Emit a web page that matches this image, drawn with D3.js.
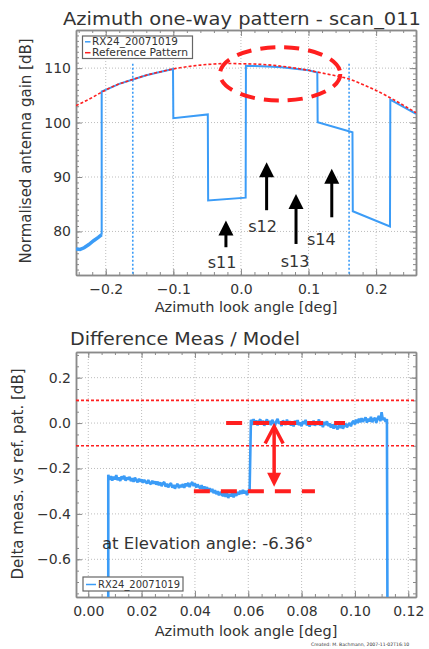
<!DOCTYPE html>
<html>
<head>
<meta charset="utf-8">
<script src="https://cdnjs.cloudflare.com/ajax/libs/d3/7.8.5/d3.min.js"></script>
<style>
body { margin: 0; background: #fff; }
svg { display: block; }
text { font-family: "DejaVu Sans", sans-serif; fill: #333; }
</style>
</head>
<body>
<script>
// ---------- top panel: azimuth one-way pattern ----------
const topXTicks = [-0.2, -0.1, 0.0, 0.1, 0.2];
const topYTicks = [80, 90, 100, 110];

// measured pattern RX24_20071019 (deg, dB)
const measStartX = [-0.244, -0.238, -0.232, -0.225, -0.218, -0.211, -0.206];
const measStartY = [76.8, 76.7, 77.0, 77.6, 78.3, 78.9, 79.4];
const measX = [-0.206, -0.206, -0.2, -0.18, -0.16, -0.14, -0.12, -0.1005, -0.1, -0.049, -0.0485, 0.007, 0.0074, 0.02, 0.04, 0.06, 0.08, 0.1, 0.113, 0.1135, 0.165, 0.1655, 0.2205, 0.221, 0.259];
const measY = [79.4, 105.7, 106.0, 107.1, 107.9, 108.7, 109.3, 109.85, 100.8, 101.5, 85.7, 86.2, 110.45, 110.4, 110.3, 110.15, 109.9, 109.6, 109.2, 100.05, 98.2, 83.7, 80.9, 104.2, 101.6];

// reference pattern
const refX = [-0.244, -0.22, -0.2, -0.18, -0.16, -0.14, -0.12, -0.1, -0.08, -0.06, -0.04, -0.02, 0.0, 0.02, 0.04, 0.06, 0.08, 0.1, 0.12, 0.14, 0.16, 0.18, 0.2, 0.22, 0.24, 0.259];
const refY = [103.1, 104.6, 106.0, 107.1, 107.9, 108.7, 109.3, 109.85, 110.25, 110.55, 110.75, 110.85, 110.8, 110.75, 110.6, 110.35, 110.0, 109.6, 109.1, 108.6, 108.0, 107.0, 105.9, 104.6, 103.2, 101.8];

// scan boundaries (blue dotted)
const scanBounds = [-0.16, 0.16];
const scanLineTop = 110.8;

// beam labels with arrows
const beamNames = ["s11", "s12", "s13", "s14"];
const beamArrowX = [-0.0222, 0.038, 0.0815, 0.1344];
const beamTipY = [82.0, 92.7, 86.9, 91.5];
const beamTailY = [77.1, 83.9, 77.7, 82.6];
const beamLabelX = [-0.028, 0.032, 0.080, 0.119];
const beamLabelY = [73.2, 79.9, 73.45, 77.6];

// highlighted region (ellipse centre and radii in data units)
const ellipseC = [0.058, 108.94];
const ellipseR = [0.089, 4.9];

// ---------- bottom panel: difference meas / model ----------
const botXTicks = [0.00, 0.02, 0.04, 0.06, 0.08, 0.10, 0.12];
const botYTicks = [0.2, 0.0, -0.2, -0.4, -0.6];
const tolerance = [0.1, -0.1];

// difference samples, 0.0005 deg apart
const diffLeftStart = 0.0075;
const diffRightStart = 0.061;
const diffStep = 0.0005;
const diffLeft = [
  -0.228, -0.250, -0.234, -0.253, -0.236, -0.248, -0.229, -0.252, -0.239, -0.255, -0.235, -0.247, -0.232, -0.254, -0.240, -0.249,
  -0.237, -0.256, -0.243, -0.259, -0.240, -0.252, -0.261, -0.245, -0.258, -0.248, -0.263, -0.250, -0.259, -0.266, -0.251, -0.264, -0.269, -0.254, -0.267, -0.257,
  -0.271, -0.258, -0.274, -0.261, -0.278, -0.265, -0.260, -0.280, -0.267, -0.283, -0.271, -0.265, -0.284, -0.272, -0.289, -0.275, -0.268, -0.286, -0.273, -0.282,
  -0.269, -0.285, -0.266, -0.278, -0.263, -0.282, -0.268, -0.260, -0.277, -0.266, -0.284, -0.271, -0.279, -0.288,
  -0.274, -0.291, -0.279, -0.296, -0.282, -0.300, -0.287, -0.303, -0.290, -0.309, -0.296, -0.313, -0.300, -0.318, -0.303, -0.315,
  -0.321, -0.304, -0.325, -0.309, -0.330, -0.312, -0.323, -0.306, -0.327, -0.310, -0.320, -0.303,
  -0.315, -0.298, -0.312, -0.294, -0.310, -0.299, -0.317, -0.296, -0.305
];
const diffRight = [
  0.015, -0.008, 0.018, -0.004, 0.012, -0.010, 0.007, 0.017, -0.006, 0.011, -0.012, 0.005, 0.016, -0.005, 0.010, -0.009, 0.014, 0.002, -0.011, 0.008, 0.019, -0.003, 0.006, -0.013, 0.011, 0.003, -0.008, 0.015, -0.004,
  0.008, -0.011, 0.005, -0.015, 0.010, -0.006, 0.013, -0.009, 0.003, -0.014, 0.009, -0.004, 0.014, -0.010, 0.002, -0.016, 0.006, -0.008, 0.011, -0.012, 0.004, -0.007, 0.016, -0.011, 0.001, -0.018, 0.005, -0.009, 0.008, -0.013,
  -0.002, -0.020, -0.006, -0.024, -0.004, -0.018, -0.028, -0.008, -0.022, -0.005, -0.025, -0.011, -0.003, -0.019, -0.007, 0.000, -0.014, 0.003,
  0.010, -0.006, 0.015, 0.000, 0.019, 0.003, 0.022, 0.005, 0.016, 0.025, 0.002, 0.020, 0.007, 0.027, 0.004, 0.017, 0.023, 0.001, 0.021, 0.031, 0.008, 0.048, 0.013, 0.024, 0.005, 0.018
];
const diffEdgeX = [0.0075, 0.1122];   // where the trace leaves the plot
const diffBelow = -0.85;

// step annotation
const stepLevels = [0.0, -0.30];
const stepDashX = [[0.0517, 0.0963], [0.0396, 0.085]];
const stepArrowX = 0.0697;
const stepArrowY = [-0.015, -0.28];

const blue = "#3b9cf7";
const red = "#ff1f1f";

let svg = d3.select("body").append("svg")
    .attr("width", 429)
    .attr("height", 649);

// frame with inward ticks on every side + dotted grid
function drawFrame(x, y, xMajor, xMinorStep, yMajor, yMinorStep, xFmt, yFmt) {
    let [x0, x1] = x.range();
    let [y0, y1] = y.range();   // y0 bottom, y1 top
    let xd = x.domain(), yd = y.domain();
    let xMinor = d3.range(Math.ceil(xd[0] / xMinorStep) * xMinorStep, xd[1], xMinorStep);
    let yMinor = d3.range(Math.ceil(yd[0] / yMinorStep) * yMinorStep, yd[1], yMinorStep);

    let grid = svg.append("g").attr("stroke", "#bdbdbd").attr("stroke-width", 1).attr("stroke-dasharray", "1,2");
    grid.selectAll(".gx").data(xMajor).join("line")
        .attr("x1", d => x(d)).attr("x2", d => x(d)).attr("y1", y0).attr("y2", y1);
    grid.selectAll(".gy").data(yMajor).join("line")
        .attr("y1", d => y(d)).attr("y2", d => y(d)).attr("x1", x0).attr("x2", x1);

    let axes = [
        [d3.axisBottom(x).tickValues(xMajor).tickSize(-6).tickPadding(9).tickFormat(xFmt), `translate(0,${y0})`],
        [d3.axisBottom(x).tickValues(xMinor).tickSize(-3).tickFormat(""), `translate(0,${y0})`],
        [d3.axisTop(x).tickValues(xMajor).tickSize(-6).tickFormat(""), `translate(0,${y1})`],
        [d3.axisTop(x).tickValues(xMinor).tickSize(-3).tickFormat(""), `translate(0,${y1})`],
        [d3.axisLeft(y).tickValues(yMajor).tickSize(-6).tickPadding(5).tickFormat(yFmt), `translate(${x0},0)`],
        [d3.axisLeft(y).tickValues(yMinor).tickSize(-3).tickFormat(""), `translate(${x0},0)`],
        [d3.axisRight(y).tickValues(yMajor).tickSize(-6).tickFormat(""), `translate(${x1},0)`],
        [d3.axisRight(y).tickValues(yMinor).tickSize(-3).tickFormat(""), `translate(${x1},0)`]
    ];
    axes.forEach(a => {
        let g = svg.append("g").attr("transform", a[1]).call(a[0].tickSizeOuter(0));
        g.select(".domain").attr("stroke", "#8a8a8a").attr("stroke-width", 1.5);
        g.selectAll(".tick line").attr("stroke", "#8a8a8a");
        g.selectAll("text").attr("font-size", 14).attr("fill", "#333").attr("font-family", "DejaVu Sans");
    });
}

function clip(id, x, y) {
    svg.append("clipPath").attr("id", id).append("rect")
        .attr("x", x.range()[0]).attr("y", y.range()[1])
        .attr("width", x.range()[1] - x.range()[0]).attr("height", y.range()[0] - y.range()[1]);
}

// ================= TOP PANEL =================
let xTop = d3.scaleLinear().domain([-0.244, 0.259]).range([76, 416]);
let yTop = d3.scaleLinear().domain([72, 117]).range([275, 30]);

drawFrame(xTop, yTop, topXTicks, 0.02, topYTicks, 1, d3.format(".1f"), d3.format("d"));
clip("clipTop", xTop, yTop);

let topData = svg.append("g").attr("clip-path", "url(#clipTop)");

// scan boundaries
topData.selectAll(".scan").data(scanBounds).join("line")
    .attr("x1", d => xTop(d)).attr("x2", d => xTop(d))
    .attr("y1", yTop(scanLineTop)).attr("y2", yTop(72))
    .attr("stroke", blue).attr("stroke-width", 1.6).attr("stroke-dasharray", "2,2");

let lineTop = d3.line().x(d => xTop(d[0])).y(d => yTop(d[1]));

topData.append("path")
    .datum(measStartX.map((v, i) => [v, measStartY[i]]))
    .attr("d", lineTop)
    .attr("fill", "none").attr("stroke", blue).attr("stroke-width", 3.5);

topData.append("path")
    .datum(measX.map((v, i) => [v, measY[i]]))
    .attr("d", lineTop)
    .attr("fill", "none").attr("stroke", blue).attr("stroke-width", 2);

topData.append("path")
    .datum(refX.map((v, i) => [v, refY[i]]))
    .attr("d", lineTop.curve(d3.curveMonotoneX))
    .attr("fill", "none").attr("stroke", red).attr("stroke-width", 1.6).attr("stroke-dasharray", "3,2");

// highlighted ellipse
svg.append("ellipse")
    .attr("cx", xTop(ellipseC[0])).attr("cy", yTop(ellipseC[1]))
    .attr("rx", xTop(ellipseC[0] + ellipseR[0]) - xTop(ellipseC[0]))
    .attr("ry", yTop(ellipseC[1] - ellipseR[1]) - yTop(ellipseC[1]))
    .attr("fill", "none").attr("stroke", red).attr("stroke-width", 4).attr("stroke-dasharray", "15,9");

// beam arrows
beamNames.forEach((name, i) => {
    let ax = xTop(beamArrowX[i]), tip = yTop(beamTipY[i]);
    svg.append("line")
        .attr("x1", ax).attr("x2", ax).attr("y1", tip + 10).attr("y2", yTop(beamTailY[i]))
        .attr("stroke", "#000").attr("stroke-width", 3);
    svg.append("path")
        .attr("d", `M${ax},${tip}L${ax + 7.5},${tip + 15}L${ax - 7.5},${tip + 15}Z`)
        .attr("fill", "#000");
    svg.append("text")
        .attr("x", xTop(beamLabelX[i])).attr("y", yTop(beamLabelY[i]))
        .attr("text-anchor", "middle")
        .attr("font-family", "Noto Sans").attr("font-size", 16).attr("fill", "#111")
        .text(name);
});

// legend
let legTop = svg.append("g");
legTop.append("rect").attr("x", 82.5).attr("y", 36).attr("width", 110).attr("height", 22.5)
    .attr("fill", "#fff").attr("stroke", "#666").attr("stroke-width", 1.2);
[["RX24_20071019", blue, 45.3], ["Reference Pattern", red, 56.2]].forEach(e => {
    legTop.append("line").attr("x1", 85).attr("x2", 90.5).attr("y1", e[2] - 3.5).attr("y2", e[2] - 3.5)
        .attr("stroke", e[1]).attr("stroke-width", 1.5);
    legTop.append("text").attr("x", 92).attr("y", e[2])
        .attr("font-family", "Liberation Sans").attr("font-size", 9.6).attr("fill", e[1])
        .attr("textLength", e[0].length > 13 ? 96 : 86).attr("lengthAdjust", "spacingAndGlyphs")
        .text(e[0]);
});

svg.append("text").attr("x", 63).attr("y", 25).attr("font-size", 18)
    .attr("textLength", 358).attr("lengthAdjust", "spacingAndGlyphs")
    .text("Azimuth one-way pattern - scan_011");
svg.append("text").attr("x", 246).attr("y", 312).attr("text-anchor", "middle").attr("font-size", 14.5)
    .text("Azimuth look angle [deg]");
svg.append("text").attr("transform", "translate(31,151) rotate(-90)").attr("text-anchor", "middle").attr("font-size", 15)
    .text("Normalised antenna gain [dB]");

// ================= BOTTOM PANEL =================
let xBot = d3.scaleLinear().domain([-0.0046, 0.1229]).range([76, 416]);
let yBot = d3.scaleLinear().domain([-0.766, 0.313]).range([597, 352]);

drawFrame(xBot, yBot, botXTicks, 0.005, botYTicks, 0.05, d3.format(".2f"), d3.format(".1f"));
clip("clipBot", xBot, yBot);

let botData = svg.append("g").attr("clip-path", "url(#clipBot)");

botData.selectAll(".tol").data(tolerance).join("line")
    .attr("x1", xBot.range()[0]).attr("x2", xBot.range()[1])
    .attr("y1", d => yBot(d)).attr("y2", d => yBot(d))
    .attr("stroke", red).attr("stroke-width", 1.6).attr("stroke-dasharray", "3,2");

let diffPts = [[diffEdgeX[0], diffBelow]]
    .concat(diffLeft.map((v, i) => [diffLeftStart + i * diffStep, v]))
    .concat(diffRight.map((v, i) => [diffRightStart + i * diffStep, v]))
    .concat([[diffEdgeX[1], diffBelow]]);

botData.append("path")
    .datum(diffPts)
    .attr("d", d3.line().x(d => xBot(d[0])).y(d => yBot(d[1])))
    .attr("fill", "none").attr("stroke", blue).attr("stroke-width", 2.6).attr("stroke-linejoin", "bevel");

// step annotation
stepLevels.forEach((lv, i) => {
    svg.append("line")
        .attr("x1", xBot(stepDashX[i][0])).attr("x2", xBot(stepDashX[i][1]))
        .attr("y1", yBot(lv)).attr("y2", yBot(lv))
        .attr("stroke", red).attr("stroke-width", 4).attr("stroke-dasharray", "16,11");
});
let ax = xBot(stepArrowX), aTop = yBot(stepArrowY[0]), aBot = yBot(stepArrowY[1]);
svg.append("line").attr("x1", ax).attr("x2", ax).attr("y1", aTop + 2).attr("y2", aBot - 8)
    .attr("stroke", red).attr("stroke-width", 3.5);
svg.append("path").attr("d", `M${ax - 9},${aTop + 17}L${ax},${aTop}L${ax + 9},${aTop + 17}`)
    .attr("fill", "none").attr("stroke", red).attr("stroke-width", 3.5);
svg.append("path").attr("d", `M${ax - 7},${aBot - 14}L${ax + 7},${aBot - 14}L${ax},${aBot}Z`)
    .attr("fill", red);

svg.append("text").attr("x", 102).attr("y", 549)
    .attr("font-family", "Noto Sans").attr("font-size", 16.5).attr("fill", "#111")
    .text("at Elevation angle: -6.36°");

let legBot = svg.append("g");
legBot.append("rect").attr("x", 83).attr("y", 577).attr("width", 100).attr("height", 14)
    .attr("fill", "#fff").attr("stroke", "#666").attr("stroke-width", 1.2);
legBot.append("line").attr("x1", 86).attr("x2", 96).attr("y1", 584.5).attr("y2", 584.5)
    .attr("stroke", blue).attr("stroke-width", 1.5);
legBot.append("text").attr("x", 98).attr("y", 588.3)
    .attr("font-family", "Liberation Sans").attr("font-size", 10.5).attr("fill", blue)
    .attr("textLength", 82).attr("lengthAdjust", "spacingAndGlyphs")
    .text("RX24_20071019");

svg.append("text").attr("x", 70).attr("y", 345).attr("font-size", 18)
    .attr("textLength", 230).attr("lengthAdjust", "spacingAndGlyphs")
    .text("Difference Meas / Model");
svg.append("text").attr("x", 246).attr("y", 636).attr("text-anchor", "middle").attr("font-size", 14.5)
    .text("Azimuth look angle [deg]");
svg.append("text").attr("transform", "translate(23,474) rotate(-90)").attr("text-anchor", "middle").attr("font-size", 15)
    .text("Delta meas. vs ref. pat. [dB]");

svg.append("text").attr("x", 311).attr("y", 646).attr("font-size", 4.6).attr("fill", "#888")
    .text("Created: M. Bachmann, 2007-11-02T16:10");
</script>
</body>
</html>
